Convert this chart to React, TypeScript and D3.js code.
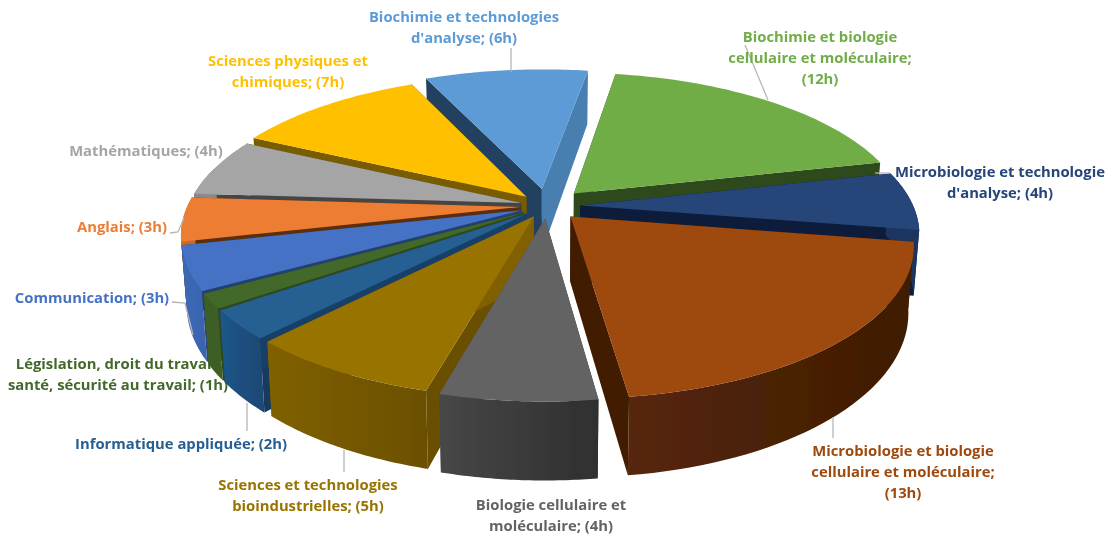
import React from "react";
import * as d3 from "d3";

const categories = [
  "Biochimie et technologies d'analyse",
  "Biochimie et biologie cellulaire et moléculaire",
  "Microbiologie et technologie d'analyse",
  "Microbiologie et biologie cellulaire et moléculaire",
  "Biologie cellulaire et moléculaire",
  "Sciences et technologies bioindustrielles",
  "Informatique appliquée",
  "Législation, droit du travail, santé, sécurité au travail",
  "Communication",
  "Anglais",
  "Mathématiques",
  "Sciences physiques et chimiques",
];
const hours = [6, 12, 4, 13, 4, 5, 2, 1, 3, 3, 4, 7];
const explode = [0.12, 0.12, 0.1, 0.1, 0.085, 0.08, 0.08, 0.08, 0.08, 0.08, 0.08, 0.09];
const topColors = ["#5b9bd5", "#70ad47", "#264478", "#9e480e", "#636363", "#997300", "#255e91", "#43682b", "#4472c4", "#ed7d31", "#a5a5a5", "#ffc000"];
const wallLeft = ["#4a7fb0", "#2f4a1e", "#1d3560", "#56260a", "#474747", "#806000", "#20558a", "#3e5f28", "#3c68b5", "#c96a28", "#8a8a8a", "#c89600"];
const wallRight = ["#4a7fb0", "#2f4a1e", "#1d3560", "#3f1c03", "#2f2f2f", "#6b5000", "#1b4873", "#3e5f28", "#3a64ad", "#c96a28", "#8a8a8a", "#c89600"];
const startFace = ["#23405e", "#2f4a1e", "#0d1c3a", "#421d03", "#3d3d3d", "#6b5000", "#163a5c", "#2f4a1e", "#2b4a80", "#5c2e0c", "#444444", "#7a5c00"];
const endFace = ["#4a7fb0", "#2f4a1e", "#0d1c3a", "#421d03", "#4a4a4a", "#806000", "#163f66", "#2f4a1e", "#24406f", "#5c2e0c", "#444444", "#7a5c00"];
const paintOrder = [1, 0, 11, 10, 9, 8, 7, 6, 5, 2, 3, 4];

const labelLines = [
  ["Biochimie et technologies", "d'analyse; (6h)"],
  ["Biochimie et biologie", "cellulaire et moléculaire;", "(12h)"],
  ["Microbiologie et technologie", "d'analyse; (4h)"],
  ["Microbiologie et biologie", "cellulaire et moléculaire;", "(13h)"],
  ["Biologie cellulaire et", "moléculaire; (4h)"],
  ["Sciences et technologies", "bioindustrielles; (5h)"],
  ["Informatique appliquée; (2h)"],
  ["Législation, droit du travail,", "santé, sécurité au travail; (1h)"],
  ["Communication; (3h)"],
  ["Anglais; (3h)"],
  ["Mathématiques; (4h)"],
  ["Sciences physiques et", "chimiques; (7h)"],
];
const labelColors = ["#5b9bd5", "#70ad47", "#264478", "#9e480e", "#636363", "#997300", "#255e91", "#43682b", "#4472c4", "#ed7d31", "#a5a5a5", "#ffc000"];
const labelAnchor: [number, number][] = [
  [464, 22], [820, 42], [1000, 177], [903, 456], [551, 510], [308, 490], [181, 449], [118, 369], [92, 303], [122, 232], [146, 156], [288, 66],
];
const leaders: [number, number][][] = [
  [[511, 48], [511, 72]],
  [[745, 45], [768, 100]],
  [[875, 173], [890, 173]],
  [[833, 417], [833, 438]],
  [],
  [[344, 450], [344, 472]],
  [[247, 403], [247, 431]],
  [],
  [[172, 302], [185, 303], [193, 335]],
  [[170, 233], [178, 232], [184, 218]],
  [],
  [],
];

const W = 1106, H = 534;
const cx = 547, cy = 206, Rx = 333, Ry = 146, persp = 0.175, depth = 64;

function project(u: number, v: number, z: number): [number, number] {
  const s = 1 / (1 - persp * v);
  return [cx + Rx * u * s * (1 - 0.015 * z), cy + Ry * v * s + depth * z * s];
}

const arcs = d3.pie<number>().sort(null).startAngle((-24.4 * Math.PI) / 180).endAngle(((360 - 24.4) * Math.PI) / 180)(hours);
const line = d3.line().curve(d3.curveLinear);

function slicePaths(i: number) {
  const a = arcs[i];
  const mid = (a.startAngle + a.endAngle) / 2;
  const ou = explode[i] * Math.sin(mid), ov = -explode[i] * Math.cos(mid);
  const P = (ang: number, r: number, z: number) => project(ou + r * Math.sin(ang), ov - r * Math.cos(ang), z);
  const samples = d3.range(0, 41).map((k) => a.startAngle + ((a.endAngle - a.startAngle) * k) / 40);
  const top = line([P(0, 0, 0), ...samples.map((t) => P(t, 1, 0))])! + "Z";
  const face = (ang: number) => line([P(0, 0, 0), P(ang, 1, 0), P(ang, 1, 1), P(0, 0, 1)])! + "Z";
  const front = samples.filter((t) => -Math.cos(t) > -0.25);
  const wall = front.length > 1 ? line([...front.map((t) => P(t, 1, 0)), ...front.slice().reverse().map((t) => P(t, 1, 1))])! + "Z" : "";
  return { top, start: face(a.startAngle), end: face(a.endAngle), wall };
}

function Label({ i }: { i: number }) {
  const [x, y] = labelAnchor[i];
  return (
    <text x={x} y={y} textAnchor="middle" fontFamily="'Open Sans', sans-serif" fontWeight={700} fontSize={14.8} fill={labelColors[i]} filter="url(#soft)">
      {labelLines[i].map((l, k) => (
        <tspan key={k} x={x} dy={k === 0 ? 0 : 21}>{l}</tspan>
      ))}
    </text>
  );
}

export default function App() {
  return (
    <svg width={W} height={H} style={{ position: "absolute", left: 0, top: 0 }}>
      <defs>
        <filter id="soft" x="-5%" y="-20%" width="110%" height="140%"><feGaussianBlur stdDeviation="0.55" /></filter>
        <filter id="softPie" x="-5%" y="-5%" width="110%" height="110%"><feGaussianBlur stdDeviation="0.5" /></filter>
        {categories.map((_, i) => (
          <linearGradient key={i} id={`wall${i}`} x1="0" x2="1" y1="0" y2="0">
            <stop offset="0" stopColor={wallLeft[i]} />
            <stop offset="1" stopColor={wallRight[i]} />
          </linearGradient>
        ))}
      </defs>
      <rect width={W} height={H} fill="#fff" />
      <Label i={7} />
      <g filter="url(#softPie)">
        {paintOrder.map((i) => {
          const p = slicePaths(i);
          return (
            <g key={i}>
              <path d={p.start} fill={startFace[i]} />
              <path d={p.end} fill={endFace[i]} />
              {p.wall && <path d={p.wall} fill={`url(#wall${i})`} />}
              <path d={p.top} fill={topColors[i]} />
            </g>
          );
        })}
      </g>
      {leaders.map((pts, i) => pts.length > 0 && (
        <path key={i} d={line(pts)!} fill="none" stroke="#b5b5b5" strokeWidth={1.3} />
      ))}
      {categories.map((_, i) => i !== 7 && <Label key={i} i={i} />)}
    </svg>
  );
}
